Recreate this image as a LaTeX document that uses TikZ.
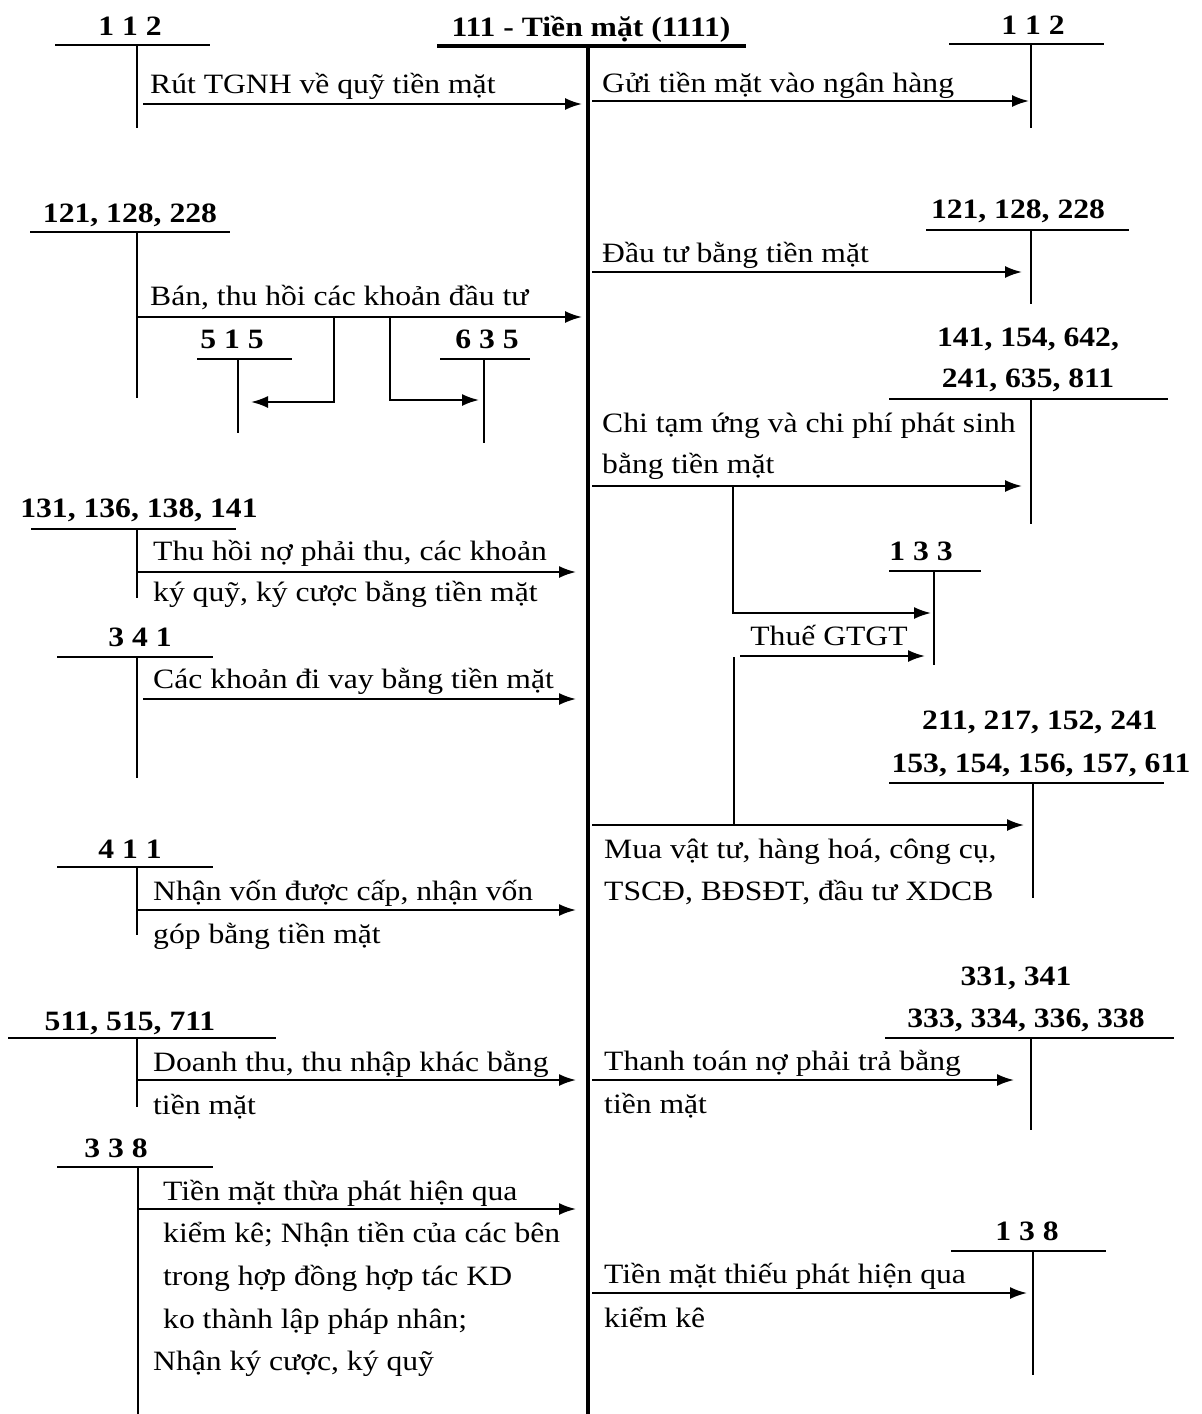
\documentclass[tikz,border=0pt]{standalone}
\usepackage{fontspec}
\setmainfont[FakeStretch=1.13]{Liberation Serif}
\usetikzlibrary{arrows.meta}
\newcommand\txtsz{\fontsize{28}{34}\selectfont}
\tikzset{
 tline/.style={line width=2.2pt},
 mline/.style={line width=3.8pt},
 flow/.style={line width=2pt,-{Latex[length=17pt,width=12pt]}},
 plainline/.style={line width=2pt},
 txt/.style={inner sep=0pt,anchor=base west,font=\txtsz},
 acc/.style={inner sep=0pt,anchor=base,font=\txtsz\bfseries},
}
\newcommand\tacc[6]{%
 \coordinate (#1-l) at (#2,#4); \coordinate (#1-r) at (#3,#4);
 \coordinate (#1-t) at (#5,#4); \coordinate (#1-b) at (#5,#6);
 \draw[tline] (#1-l) -- (#1-r); \draw[tline] (#1-t) -- (#1-b);}
\newcommand\flowarr[4]{%
 \coordinate (#1-s) at (#2,#3); \coordinate (#1-e) at (#4,#3);
 \draw[flow] (#1-s) -- (#1-e);}
\begin{document}
\begin{tikzpicture}[x=1pt,y=-1pt]
\useasboundingbox (0,0) rectangle (1202,1414);
% main account
\node[acc] (main) at (591,36) {111 - Tiền mặt (1111)};
\coordinate (ml) at (437,46); \coordinate (mr) at (746,46);
\coordinate (mt) at (588,46); \coordinate (mb) at (588,1414);
\draw[mline] (ml) -- (mr); \draw[mline] (mt) -- (mb);

% ---------- left side ----------
\tacc{a112}{55}{210}{45}{137}{128}
\node[acc] (la112) at (130,35) {1 1 2};
\flowarr{f1}{143}{104}{582}
\node[txt] (t1) at (150,93) {Rút TGNH về quỹ tiền mặt};

\tacc{a121}{30}{230}{232}{137}{398}
\node[acc] (la121) at (130,222) {121, 128, 228};
\flowarr{f2}{137}{317}{582}
\node[txt] (t2) at (150,305) {Bán, thu hồi các khoản đầu tư};

\tacc{a515}{197}{292}{359}{238}{433}
\node[acc] (la515) at (232,348) {5 1 5};
\coordinate (b515s) at (334,317); \coordinate (b515e) at (251,402);
\draw[flow] (b515s) |- (b515e);

\tacc{a635}{440}{530}{359}{484}{443}
\node[acc] (la635) at (487,348) {6 3 5};
\coordinate (b635s) at (390,317); \coordinate (b635e) at (479,400);
\draw[flow] (b635s) |- (b635e);

\tacc{a131}{31}{236}{529}{137}{598}
\node[acc] (la131) at (139,517) {131, 136, 138, 141};
\flowarr{f3}{137}{572}{576}
\node[txt] (t3a) at (153,560) {Thu hồi nợ phải thu, các khoản};
\node[txt] (t3b) at (153,601) {ký quỹ, ký cược bằng tiền mặt};

\tacc{a341}{57}{213}{657}{137}{778}
\node[acc] (la341) at (140,646) {3 4 1};
\flowarr{f4}{143}{699}{576}
\node[txt] (t4) at (153,688) {Các khoản đi vay bằng tiền mặt};

\tacc{a411}{57}{213}{867}{137}{935}
\node[acc] (la411) at (130,858) {4 1 1};
\flowarr{f5}{137}{910}{576}
\node[txt] (t5a) at (153,900) {Nhận vốn được cấp, nhận vốn};
\node[txt] (t5b) at (153,943) {góp bằng tiền mặt};

\tacc{a511}{8}{276}{1038}{137}{1107}
\node[acc] (la511) at (130,1030) {511, 515, 711};
\flowarr{f6}{137}{1080}{576}
\node[txt] (t6a) at (153,1071) {Doanh thu, thu nhập khác bằng};
\node[txt] (t6b) at (153,1114) {tiền mặt};

\tacc{a338}{57}{213}{1167}{138}{1414}
\node[acc] (la338) at (116,1157) {3 3 8};
\flowarr{f7}{138}{1209}{576}
\node[txt] (t7a) at (163,1200) {Tiền mặt thừa phát hiện qua};
\node[txt] (t7b) at (163,1242) {kiểm kê; Nhận tiền của các bên};
\node[txt] (t7c) at (163,1285) {trong hợp đồng hợp tác KD};
\node[txt] (t7d) at (163,1328) {ko thành lập pháp nhân;};
\node[txt] (t7e) at (153,1370) {Nhận ký cược, ký quỹ};

% ---------- right side ----------
\tacc{b112}{949}{1104}{44}{1031}{128}
\node[acc] (lb112) at (1033,34) {1 1 2};
\flowarr{g1}{592}{101}{1029}
\node[txt] (u1) at (602,92) {Gửi tiền mặt vào ngân hàng};

\tacc{b121}{926}{1129}{230}{1031}{304}
\node[acc] (lb121) at (1018,218) {121, 128, 228};
\flowarr{g2}{592}{272}{1022}
\node[txt] (u2) at (602,262) {Đầu tư bằng tiền mặt};

\tacc{b141}{889}{1168}{399}{1031}{524}
\node[acc] (lb141a) at (1028,346) {141, 154, 642,};
\node[acc] (lb141b) at (1028,387) {241, 635, 811};
\flowarr{g3}{592}{486}{1022}
\node[txt] (u3a) at (602,432) {Chi tạm ứng và chi phí phát sinh};
\node[txt] (u3b) at (602,473) {bằng tiền mặt};

\tacc{b133}{889}{981}{571}{934}{665}
\node[acc] (lb133) at (921,560) {1 3 3};
\coordinate (vat1s) at (733,486); \coordinate (vat1e) at (931,613);
\draw[flow] (vat1s) |- (vat1e);
\node[inner sep=0pt,anchor=base,font=\txtsz] (u4) at (829,645) {Thuế GTGT};
\flowarr{g4}{740}{656}{925}
\coordinate (vat2t) at (734,657); \coordinate (vat2b) at (734,825);
\draw[plainline] (vat2t) -- (vat2b);

\tacc{b211}{889}{1164}{783}{1033}{898}
\node[acc] (lb211a) at (1040,729) {211, 217, 152, 241};
\node[acc] (lb211b) at (1041,772) {153, 154, 156, 157, 611};
\flowarr{g5}{592}{825}{1024}
\node[txt] (u5a) at (604,858) {Mua vật tư, hàng hoá, công cụ,};
\node[txt] (u5b) at (604,900) {TSCĐ, BĐSĐT, đầu tư XDCB};

\tacc{b331}{885}{1174}{1038}{1031}{1130}
\node[acc] (lb331a) at (1016,985) {331, 341};
\node[acc] (lb331b) at (1026,1027) {333, 334, 336, 338};
\flowarr{g6}{592}{1080}{1014}
\node[txt] (u6a) at (604,1070) {Thanh toán nợ phải trả bằng};
\node[txt] (u6b) at (604,1113) {tiền mặt};

\tacc{b138}{951}{1106}{1251}{1033}{1375}
\node[acc] (lb138) at (1027,1240) {1 3 8};
\flowarr{g7}{592}{1293}{1027}
\node[txt] (u7a) at (604,1283) {Tiền mặt thiếu phát hiện qua};
\node[txt] (u7b) at (604,1327) {kiểm kê};
\end{tikzpicture}
\end{document}
